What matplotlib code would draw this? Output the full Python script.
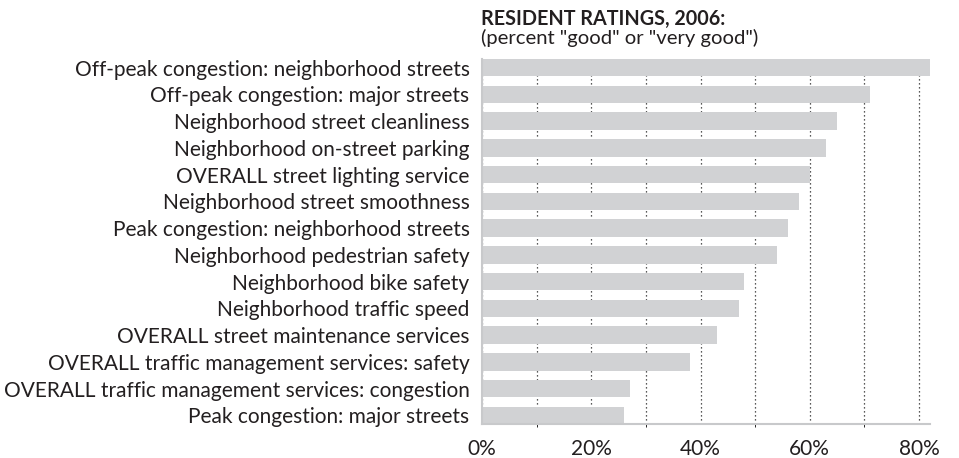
import matplotlib
matplotlib.use("Agg")
import matplotlib.pyplot as plt
from matplotlib.ticker import MultipleLocator, FuncFormatter

categories = [
    "Off-peak congestion: neighborhood streets",
    "Off-peak congestion: major streets",
    "Neighborhood street cleanliness",
    "Neighborhood on-street parking",
    "OVERALL street lighting service",
    "Neighborhood street smoothness",
    "Peak congestion: neighborhood streets",
    "Neighborhood pedestrian safety",
    "Neighborhood bike safety",
    "Neighborhood traffic speed",
    "OVERALL street maintenance services",
    "OVERALL traffic management services: safety",
    "OVERALL traffic management services: congestion",
    "Peak congestion: major streets",
]
values = [82, 71, 65, 63, 60, 58, 56, 54, 48, 47, 43, 38, 27, 26]
x_ticks = [0, 20, 40, 60, 80]

TEXT = "#231f20"
BAR = "#d1d2d4"
SPINE = "#c8c9cb"
FONT = "Lato"

fig = plt.figure(figsize=(9.59, 4.58), dpi=100)
ax = fig.add_axes([482 / 959, 34 / 458, 448 / 959, 365 / 458])

pos = list(range(len(categories)))
bar_h = 0.65
ax.barh(pos, values, height=bar_h, color=BAR, zorder=2)

ax.set_ylim(len(categories) - 1 + bar_h / 2, -bar_h / 2)
ax.set_xlim(0, 82)

ax.set_yticks(pos)
ax.set_yticklabels(categories, fontsize=15, color=TEXT, family=FONT)
ax.set_xticks(x_ticks)
ax.xaxis.set_major_formatter(FuncFormatter(lambda v, p: f"{v:.0f}%"))
for lab in ax.get_xticklabels():
    lab.set_fontsize(15)
    lab.set_color(TEXT)
    lab.set_family(FONT)
ax.tick_params(axis="both", length=0)
ax.tick_params(axis="y", pad=9)
ax.tick_params(axis="x", pad=11)

# dotted grid every 10%
ax.xaxis.set_minor_locator(MultipleLocator(10))
ax.grid(axis="x", which="both", color="#222222", linestyle=(0, (1, 2.2)), linewidth=0.9, zorder=0)
ax.set_axisbelow(True)

for side in ("top", "right"):
    ax.spines[side].set_visible(False)
for side in ("left", "bottom"):
    ax.spines[side].set_color(SPINE)
    ax.spines[side].set_linewidth(1.5)
    ax.spines[side].set_zorder(3)

fig.text(481 / 959, 1 - 24.5 / 458, "RESIDENT RATINGS, 2006:", fontsize=14.2, fontweight="bold",
         color=TEXT, family=FONT, ha="left", va="baseline")
fig.text(481 / 959, 1 - 44 / 458, '(percent "good" or "very good")', fontsize=14.6,
         color=TEXT, family=FONT, ha="left", va="baseline")

fig.savefig("out.png", dpi=100)
